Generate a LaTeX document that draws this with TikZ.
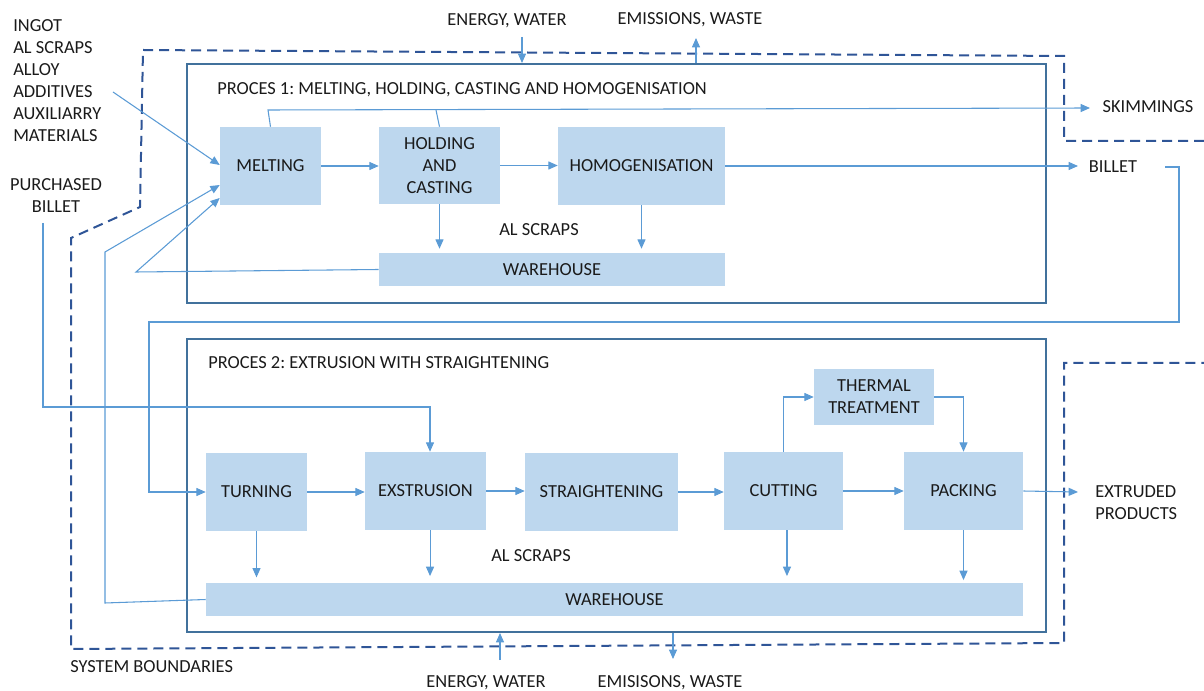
\documentclass[tikz,border=0pt]{standalone}
\usepackage{fontspec}
\setmainfont{Carlito}
\usetikzlibrary{arrows.meta,calc}
\definecolor{boxfill}{HTML}{BDD7EE}
\definecolor{connc}{HTML}{5B9BD5}
\definecolor{framec}{HTML}{41719C}
\definecolor{dashc}{HTML}{2F5597}
\definecolor{txtc}{HTML}{1A1A1A}
\frenchspacing
\begin{document}
\begin{tikzpicture}[x=0.75pt,y=-0.75pt,
  font=\fontsize{13.8}{16.5}\selectfont, text=txtc,
  box/.style={fill=boxfill, draw=none, inner sep=0pt, align=center},
  frame/.style={draw=framec, line width=1.5pt, inner sep=0pt},
  line/.style={draw=connc, line width=0.8pt},
  arr/.style={line, -{Triangle[length=7pt,width=6pt]}},
  bound/.style={draw=dashc, line width=1.5pt, dash pattern=on 7.5pt off 4.5pt},
  lbl/.style={inner sep=0pt}]
\useasboundingbox (0,0) rectangle (1204,691);

% frames
\node[frame, minimum width=644.25pt, minimum height=179.25pt] (p1) at (616.5,183.5) {};
\node[frame, minimum width=644.25pt, minimum height=219.75pt] (p2) at (616.5,485.5) {};

% system boundary
\draw[bound] (1204,141) -- (1064,141) -- (1064,56) -- (143,50) -- (140,207) -- (71,238)
  -- (71,649) -- (1064,643) -- (1064,363) -- (1204,363);

% process 1 boxes
\node[box, minimum width=75.75pt, minimum height=58.5pt] (melt) at (270.5,166) {MELTING};
\node[box, minimum width=90.75pt, minimum height=57.75pt] (hold) at (439.5,165.5) {HOLDING\\AND\\CASTING};
\node[box, minimum width=125.25pt, minimum height=58.5pt] (homog) at (641.5,166) {HOMOGENISATION};
\node[box, minimum width=259.5pt, minimum height=24.75pt] (wh1) at (552,269.5) {WAREHOUSE};

% process 2 boxes
\node[box, minimum width=75.75pt, minimum height=58.5pt] (turn) at (256.5,492) {TURNING};
\node[box, minimum width=90.75pt, minimum height=58.5pt] (extr) at (425.5,491) {EXSTRUSION};
\node[box, minimum width=114.75pt, minimum height=58.5pt] (str) at (601.5,492) {STRAIGHTENING};
\node[box, minimum width=89.25pt, minimum height=58.5pt] (cut) at (783.5,491) {CUTTING};
\node[box, minimum width=89.25pt, minimum height=58.5pt] (pack) at (963.5,491) {PACKING};
\node[box, minimum width=90pt, minimum height=42pt] (therm) at (874,397) {THERMAL\\TREATMENT};
\node[box, minimum width=612.75pt, minimum height=24.75pt] (wh2) at (614.5,599.5) {WAREHOUSE};

% labels
\node[lbl, anchor=west, align=left] (inputs) at (13,80.5) {INGOT\\AL SCRAPS\\ALLOY\\ADDITIVES\\AUXILIARRY\\MATERIALS};
\node[lbl, align=center] (pbill) at (56,196) {PURCHASED\\BILLET};
\node[lbl] (ew1) at (507,21) {ENERGY, WATER};
\node[lbl] (em1) at (690,20) {EMISSIONS, WASTE};
\node[lbl, anchor=west] (t1) at (217,90) {PROCES 1: MELTING, HOLDING, CASTING AND HOMOGENISATION};
\node[lbl] (skim) at (1148,107) {SKIMMINGS};
\node[lbl] (billet) at (1113,167) {BILLET};
\node[lbl] (als1) at (539,230) {AL SCRAPS};
\node[lbl, anchor=west] (t2) at (208,363) {PROCES 2: EXTRUSION WITH STRAIGHTENING};
\node[lbl] (als2) at (531,556) {AL SCRAPS};
\node[lbl, anchor=west, align=left] (extp) at (1095,503) {EXTRUDED\\PRODUCTS};
\node[lbl] (ew2) at (486,683) {ENERGY, WATER};
\node[lbl] (em2) at (670,683) {EMISISONS, WASTE};
\node[lbl, anchor=west] (sysb) at (70,667) {SYSTEM BOUNDARIES};

% coordinates
\coordinate (inA) at (113,92);
\coordinate (sk1) at (268,110);
\coordinate (sk2) at (436,110);
\coordinate (skT) at (1090,108);
\coordinate (biT) at (1078,166);
\coordinate (bO) at (1165,167);
\coordinate (b1) at (1179,322);
\coordinate (b2) at (149,322);
\coordinate (pbO) at (43,223);
\coordinate (pb1) at (430,407);
\coordinate (w2a) at (105,603);
\coordinate (w2b) at (105,252);
\coordinate (w1a) at (136,272);
\coordinate (epT) at (1078,492);
\coordinate (e1) at (522,37);
\coordinate (m1) at (696,38);
\coordinate (e2) at (500,660);
\coordinate (m2) at (673,659);

% process 1 connectors
\draw[arr] (inA) -- ([yshift=0.75pt]melt.west);
\draw[arr] (melt.east) -- (melt.east -| hold.west);
\draw[arr] (hold.east) -- (hold.east -| homog.west);
\draw[arr] (homog.east) -- (biT);
\draw[arr] (melt.north) -- (sk1) -- (skT);
\draw[line] (hold.north) -- (sk2);
\draw[arr, shorten >=3pt] (hold.south) -- (hold.south |- wh1.north);
\draw[arr, shorten >=3pt] (homog.south) -- (homog.south |- wh1.north);
\draw[arr] (wh1.west) -- (w1a) -- ([yshift=-24pt]melt.west);
\draw[arr] (wh2.west) -- (w2a) -- (w2b) -- ([yshift=-14.25pt]melt.west);

% billet loop and purchased billet
\draw[arr] (bO) -- (bO -| b1) -- (b1) -- (b2) |- (turn.west);
\draw[arr] (pbO) |- (pb1) -- (pb1 |- extr.north);

% process 2 connectors
\draw[arr] (turn.east) -- (turn.east -| extr.west);
\draw[arr] (extr.east) -- (extr.east -| str.west);
\draw[arr] (str.east) -- (str.east -| cut.west);
\draw[arr] (cut.east) -- (cut.east -| pack.west);
\draw[arr] (pack.east) -- (epT);
\draw[arr] (cut.north) |- (therm.west);
\draw[arr] (therm.east) -| (pack.north);
\draw[arr, shorten >=4pt] (turn.south) -- (turn.south |- wh2.north);
\draw[arr, shorten >=5pt] ([xshift=3.4pt]extr.south) -- ([xshift=3.4pt]extr.south |- wh2.north);
\draw[arr, shorten >=5pt] ([xshift=2.6pt]cut.south) -- ([xshift=2.6pt]cut.south |- wh2.north);
\draw[arr, shorten >=2pt] (pack.south) -- (pack.south |- wh2.north);

% energy / emissions
\draw[arr] (e1) -- (e1 |- p1.north);
\draw[arr] (m1 |- p1.north) -- (m1);
\draw[arr] (e2) -- (e2 |- p2.south);
\draw[arr] (m2 |- p2.south) -- (m2);
\end{tikzpicture}
\end{document}
